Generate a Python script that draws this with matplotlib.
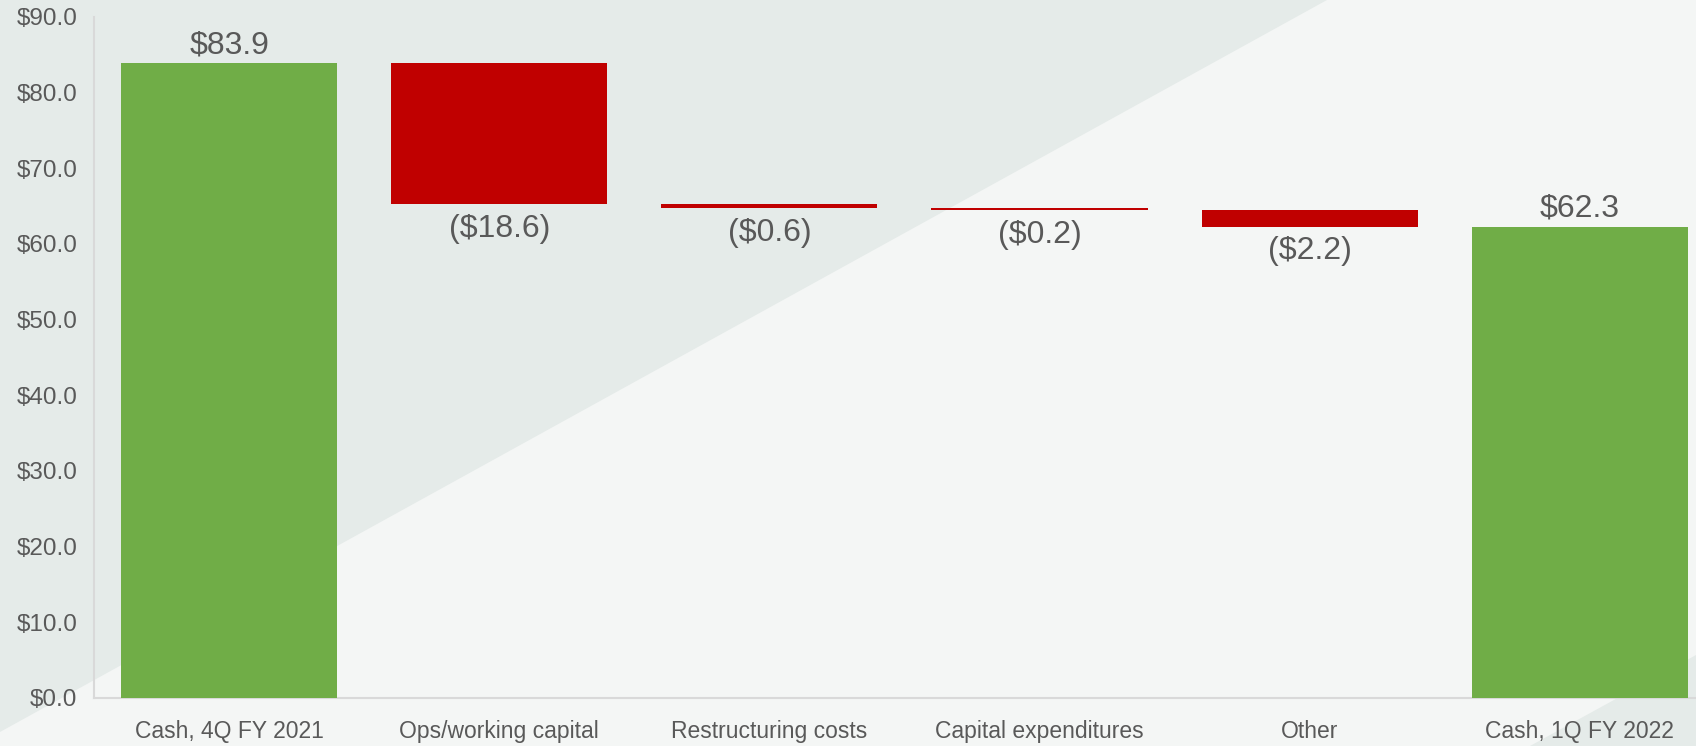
import matplotlib
matplotlib.use('Agg')
import matplotlib.pyplot as plt
from matplotlib.patches import Polygon

plt.rcParams['font.family'] = ['Liberation Sans', 'DejaVu Sans']

# Data
categories = ['Cash, 4Q FY 2021', 'Ops/working capital', 'Restructuring costs',
              'Capital expenditures', 'Other', 'Cash, 1Q FY 2022']
start_cash = 83.9
changes = [-18.6, -0.6, -0.2, -2.2]
end_cash = 62.3
y_ticks = [0, 10, 20, 30, 40, 50, 60, 70, 80, 90]

green = '#70AD47'
red = '#C00000'
text_gray = '#595959'

W, H = 1696, 746
fig = plt.figure(figsize=(W / 100, H / 100), dpi=100)
fig.patch.set_facecolor('#F4F6F5')

# Background diagonal shapes (behind the axes)
fig.add_artist(Polygon([(0, 1), (1327 / W, 1), (0, 1 - 732 / H)], closed=True,
                       transform=fig.transFigure, facecolor='#E5EBE9',
                       edgecolor='none', zorder=-10))
fig.add_artist(Polygon([(1530 / W, 0), (1, 1 - 655 / H), (1, 0)], closed=True,
                       transform=fig.transFigure, facecolor='#E5EBE9',
                       edgecolor='none', zorder=-10))

ax = fig.add_axes([94 / W, 48 / H, 1602 / W, 681 / H])
ax.set_facecolor('none')

# Waterfall bars
x = list(range(len(categories)))
ax.bar(x[0], start_cash, width=0.8, color=green, zorder=3)
ax.text(x[0], start_cash + 0.4, '${:.1f}'.format(start_cash), ha='center', va='bottom',
        fontsize=23, color=text_gray)

level = start_cash
for i, c in enumerate(changes, start=1):
    bottom = level + c
    ax.bar(x[i], -c, bottom=bottom, width=0.8, color=red, zorder=3)
    ax.text(x[i], bottom - 1.3, '(${:.1f})'.format(-c), ha='center', va='top',
            fontsize=23, color=text_gray)
    level = bottom

ax.bar(x[-1], end_cash, width=0.8, color=green, zorder=3)
ax.text(x[-1], end_cash + 0.4, '${:.1f}'.format(end_cash), ha='center', va='bottom',
        fontsize=23, color=text_gray)

# Axes styling
ax.set_xlim(-0.5, 5.43)
ax.set_ylim(0, 90)
ax.set_yticks(y_ticks)
ax.set_yticklabels(['${:.1f}'.format(v) for v in y_ticks])
ax.set_xticks(x)
ax.set_xticklabels(categories)
ax.tick_params(axis='y', length=0, pad=12, labelsize=17.5, labelcolor=text_gray)
ax.tick_params(axis='x', length=0, pad=16, labelsize=16.5, labelcolor=text_gray)

for side in ['top', 'right']:
    ax.spines[side].set_visible(False)
for side in ['left', 'bottom']:
    ax.spines[side].set_color('#D9D9D9')
    ax.spines[side].set_linewidth(1.5)

fig.savefig('out.png', dpi=100, facecolor=fig.get_facecolor())
